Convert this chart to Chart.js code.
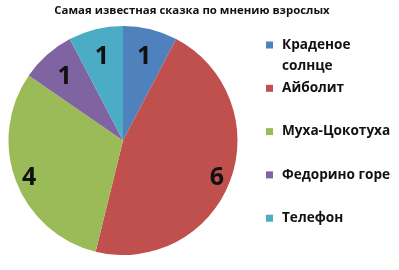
<!DOCTYPE html>
<html>
<head>
<meta charset="utf-8">
<script src="https://cdn.jsdelivr.net/npm/chart.js@4/dist/chart.umd.min.js"></script>
<style>
  html, body { margin: 0; padding: 0; background: #fff; }
  #wrap { width: 399px; height: 270px; position: relative; }
</style>
</head>
<body>
<div id="wrap"><canvas id="chart" width="399" height="270"></canvas></div>
<script>
const chartTitle = 'Самая известная сказка по мнению взрослых';
const tales = ['Краденое солнце', 'Айболит', 'Муха-Цокотуха', 'Федорино горе', 'Телефон'];
const legendLines = [['Краденое', 'солнце'], ['Айболит'], ['Муха-Цокотуха'], ['Федорино горе'], ['Телефон']];
const votes = [1, 6, 4, 1, 1];
const sliceColors = ['#4F81BD', '#C0504D', '#9BBB59', '#8064A2', '#4BACC6'];

const ctx = document.getElementById('chart').getContext('2d');

// title, value labels and legend drawn by hand to match the office-style layout
const extras = {
    id: 'extras',
    afterDatasetsDraw(chart) {
        const c = chart.ctx;
        const arcs = chart.getDatasetMeta(0).data;
        const size = 25;
        c.save();
        c.fillStyle = '#111';
        c.font = 'bold ' + size + 'px "Open Sans"';
        c.textAlign = 'center';
        c.textBaseline = 'alphabetic';
        arcs.forEach((arc, i) => {
            const mid = (arc.startAngle + arc.endAngle) / 2;
            const r = arc.outerRadius * (votes[i] >= 4 ? 0.877 : 0.77);
            const x = arc.x + Math.cos(mid) * r;
            const y = arc.y + Math.sin(mid) * r;
            c.fillText(String(votes[i]), x, y + size * 0.36);
        });
        c.restore();
    },
    afterDraw(chart) {
        const c = chart.ctx;
        c.save();
        c.fillStyle = '#111';
        c.textBaseline = 'middle';
        c.textAlign = 'center';
        c.font = 'bold 11.4px "Open Sans"';
        c.fillText(chartTitle, 192, 11);

        c.textAlign = 'left';
        c.font = 'bold 13.6px "Open Sans"';
        legendLines.forEach((lines, i) => {
            const y = 45 + i * 43.3;
            c.fillStyle = sliceColors[i];
            c.fillRect(266, y - 3.5, 7, 7);
            c.fillStyle = '#111';
            lines.forEach((line, j) => c.fillText(line, 282, y + j * 21));
        });
        c.restore();
    }
};

const chart = new Chart(ctx, {
    type: 'pie',
    data: {
        labels: tales,
        datasets: [{
            data: votes,
            backgroundColor: sliceColors,
            borderWidth: 0
        }]
    },
    options: {
        responsive: false,
        animation: false,
        layout: {
            padding: { left: 8, right: 161, top: 26, bottom: 15 }
        },
        plugins: {
            legend: { display: false },
            title: { display: false },
            tooltip: { enabled: false }
        }
    },
    plugins: [extras]
});
</script>
</body>
</html>
